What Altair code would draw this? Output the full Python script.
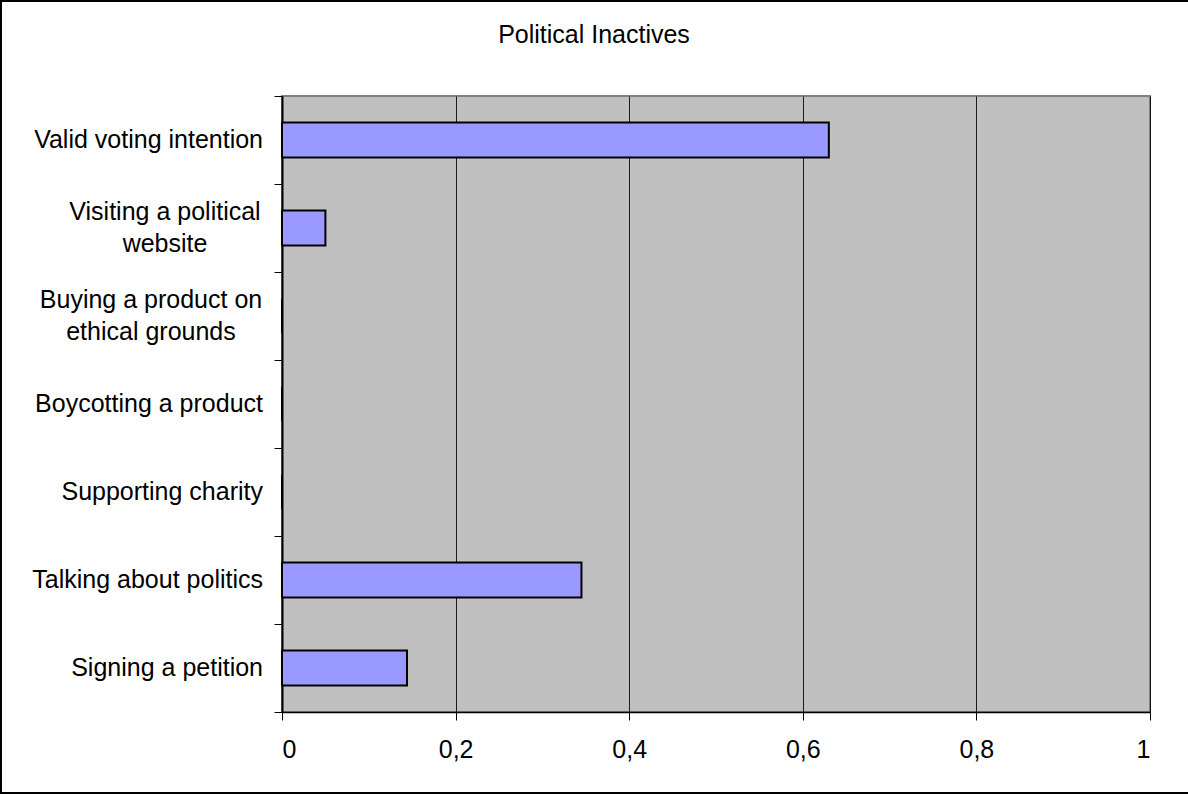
import altair as alt
import pandas as pd

# Activity labels, top to bottom; "|" marks a line break
activities = [
    "Valid voting intention",
    "Visiting a political|website",
    "Buying a product on|ethical grounds",
    "Boycotting a product",
    "Supporting charity",
    "Talking about politics",
    "Signing a petition",
]
shares = [0.63, 0.05, 0.0, 0.0, 0.0, 0.345, 0.144]

x_ticks = [0, 0.2, 0.4, 0.6, 0.8, 1.0]

df = pd.DataFrame({"activity": activities, "share": shares})

FONT = "Liberation Sans"
FS = 25
W, H = 868, 616
PAD_L, PAD_T, PAD_R, PAD_B = 282, 96, 38, 82

y_enc = alt.Y(
    "activity:N",
    sort=activities,
    scale=alt.Scale(paddingInner=0, paddingOuter=0),
    axis=alt.Axis(
        title=None,
        labels=False,
        tickBand="extent",
        tickSize=8,
        tickColor="#000000",
        domainColor="#000000",
        domainWidth=2,
        grid=False,
    ),
)

bars = alt.Chart(df).mark_bar(
    fill="#9999FF", stroke="#000000", strokeWidth=2, height={"band": 0.4}
).encode(
    x=alt.X(
        "share:Q",
        scale=alt.Scale(domain=[0, 1], nice=False, zero=True),
        axis=alt.Axis(
            values=x_ticks,
            title=None,
            labelExpr="replace(format(datum.value, ''), '.', ',')",
            labelFont=FONT,
            labelFontSize=FS,
            labelColor="#000000",
            labelPadding=17,
            tickSize=8,
            tickColor="#000000",
            domainColor="#000000",
            domainWidth=1.5,
            grid=True,
            gridColor="#000000",
            gridWidth=1,
            gridOpacity=0.85,
        ),
    ),
    y=y_enc,
)

label_style = dict(
    baseline="middle", font=FONT, fontSize=FS,
    color="#000000", lineBreak="|", lineHeight=32,
)
y_lab = alt.Y("activity:N", sort=activities)

# Single-line category labels, right-aligned next to the axis
labels_one = alt.Chart(df).transform_filter(
    "indexof(datum.activity, '|') < 0"
).mark_text(align="right", **label_style).encode(
    x=alt.value(-19), y=y_lab, text="activity:N"
)

# Two-line labels: lines centred on each other, block centred on its band
labels_visit = alt.Chart(df).transform_filter(
    "indexof(datum.activity, 'Visiting') == 0"
).mark_text(align="center", dy=-16, **label_style).encode(
    x=alt.value(-117), y=y_lab, text="activity:N"
)
labels_buy = alt.Chart(df).transform_filter(
    "indexof(datum.activity, 'Buying') == 0"
).mark_text(align="center", dy=-16, **label_style).encode(
    x=alt.value(-131), y=y_lab, text="activity:N"
)

# Outer frame of the figure
frame = alt.Chart(df).mark_rect(
    fill=None, stroke="#000000", strokeWidth=2, clip=False
).encode(
    x=alt.value(-PAD_L + 1),
    x2=alt.value(W + PAD_R + 10),
    y=alt.value(-PAD_T + 1),
    y2=alt.value(H + PAD_B - 1),
)

chart = alt.layer(bars, labels_one, labels_visit, labels_buy, frame).properties(
    width=W,
    height=H,
    title=alt.TitleParams(
        "Political Inactives",
        font=FONT,
        fontSize=FS,
        fontWeight="normal",
        color="#000000",
        anchor="middle",
        baseline="bottom",
        dx=-122,
        dy=73,
        offset=0,
    ),
    autosize=alt.AutoSizeParams(type="none"),
    padding={"left": PAD_L, "top": PAD_T, "right": PAD_R, "bottom": PAD_B},
    background="#FFFFFF",
).configure_view(
    fill="#C0C0C0", stroke="#808080", strokeWidth=2
)

chart.save("out.html", embed_options={"renderer": "svg", "actions": False})
